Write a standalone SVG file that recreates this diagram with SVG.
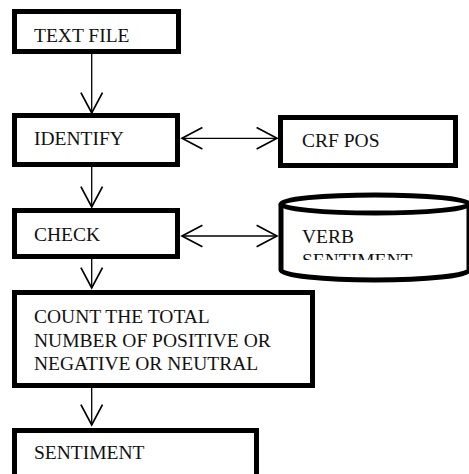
<svg xmlns="http://www.w3.org/2000/svg" width="469" height="474" viewBox="0 0 469 474" font-family="Liberation Serif">
  <style>
    .box { fill: #ffffff; stroke: #000000; stroke-width: 5; }
    .lbl { font-size: 19.5px; fill: #111111; }
    .conn { fill: none; stroke: #000000; stroke-width: 1.3; }
  </style>
  <defs>
    <marker id="arrow" markerUnits="userSpaceOnUse" markerWidth="24" markerHeight="24" refX="18" refY="10" orient="auto-start-reverse" viewBox="0 0 20 20">
      <path d="M1,1 L18,10 L1,19" fill="none" stroke="#000000" stroke-width="1.4"/>
    </marker>
    <clipPath id="cylclip">
      <rect x="284" y="215" width="185" height="45"/>
    </clipPath>
  </defs>
  <rect width="469" height="474" fill="#ffffff"/>

  <g id="connectors">
    <line class="conn" x1="91.7" y1="54" x2="91.7" y2="113" marker-end="url(#arrow)"/>
    <line class="conn" x1="91.7" y1="167" x2="91.7" y2="207" marker-end="url(#arrow)"/>
    <line class="conn" x1="91.7" y1="259" x2="91.7" y2="288" marker-end="url(#arrow)"/>
    <line class="conn" x1="91.7" y1="388" x2="91.7" y2="425" marker-end="url(#arrow)"/>
    <line class="conn" x1="182" y1="138.3" x2="277" y2="138.3" marker-start="url(#arrow)" marker-end="url(#arrow)"/>
    <line class="conn" x1="182" y1="236" x2="277" y2="236" marker-start="url(#arrow)" marker-end="url(#arrow)"/>
  </g>

  <g id="text-file">
    <rect class="box" x="14.5" y="11.5" width="164" height="40"/>
    <text class="lbl" font-family="Liberation Serif" x="34" y="41.7">TEXT FILE</text>
  </g>

  <g id="identify">
    <rect class="box" x="14.5" y="115.5" width="163" height="49"/>
    <text class="lbl" font-family="Liberation Serif" x="34" y="145">IDENTIFY</text>
  </g>

  <g id="crf-pos">
    <rect class="box" x="280.5" y="117.5" width="175" height="48"/>
    <text class="lbl" font-family="Liberation Serif" x="302" y="147">CRF POS</text>
  </g>

  <g id="check">
    <rect class="box" x="14.5" y="210.5" width="163" height="46"/>
    <text class="lbl" font-family="Liberation Serif" x="34" y="240.7">CHECK</text>
  </g>

  <g id="verb-sentiment">
    <path d="M281,204 L281,270 A94,10 0 0 0 469,270 L469,204" fill="#ffffff" stroke="#000000" stroke-width="5"/>
    <ellipse cx="375" cy="204" rx="94" ry="9" fill="#ffffff" stroke="#000000" stroke-width="5"/>
    <g clip-path="url(#cylclip)">
      <text class="lbl" font-family="Liberation Serif" x="302" y="243.3">VERB</text>
      <text class="lbl" font-family="Liberation Serif" x="302" y="267">SENTIMENT</text>
    </g>
  </g>

  <g id="count">
    <rect class="box" x="14.5" y="292.5" width="298" height="93"/>
    <text class="lbl" font-family="Liberation Serif" x="34" y="323">COUNT THE TOTAL</text>
    <text class="lbl" font-family="Liberation Serif" x="34" y="346.5">NUMBER OF POSITIVE OR</text>
    <text class="lbl" font-family="Liberation Serif" x="34" y="369.5">NEGATIVE OR NEUTRAL</text>
  </g>

  <g id="sentiment">
    <rect class="box" x="14.5" y="430.5" width="242" height="60"/>
    <text class="lbl" font-family="Liberation Serif" x="34" y="459">SENTIMENT</text>
  </g>
</svg>
